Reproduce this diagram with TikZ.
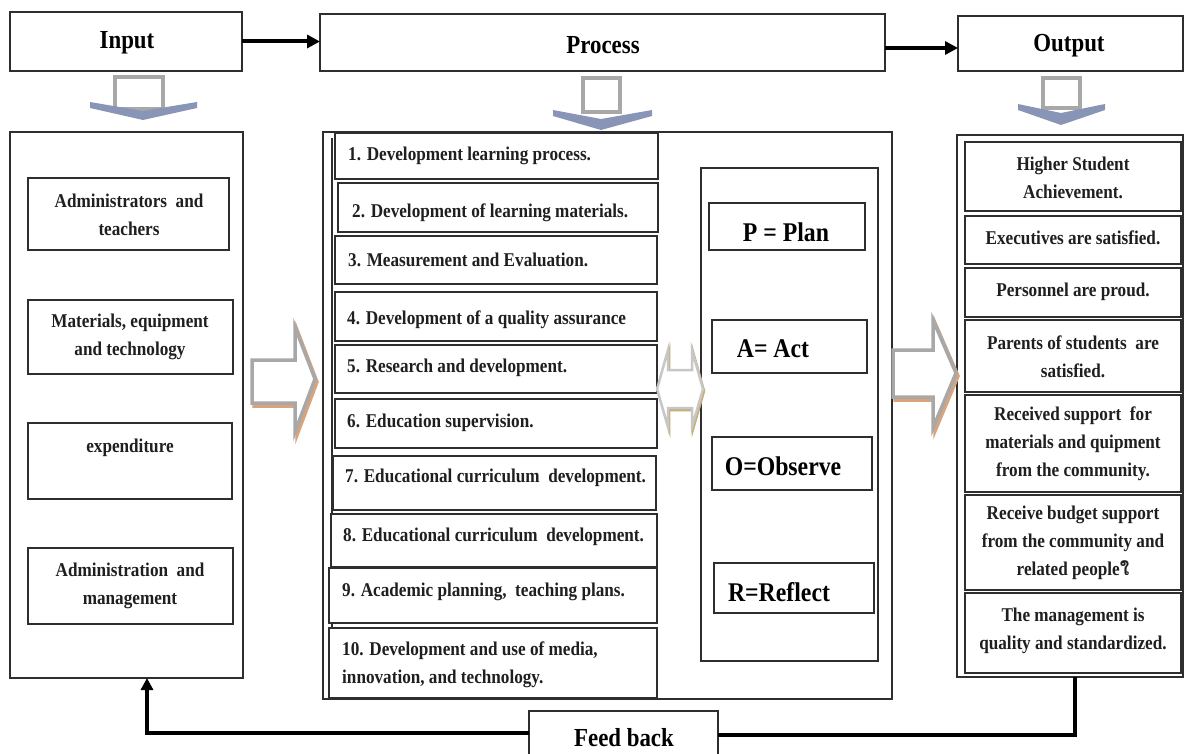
\documentclass[tikz,border=0pt]{standalone}
\usepackage{fontspec}
\setmainfont{Liberation Serif}[FakeStretch=0.88]
\newfontfamily\thaifont[Script=Thai]{Loma}
\usetikzlibrary{arrows.meta}
\definecolor{frame}{HTML}{2E2E2E}
\definecolor{arrgray}{HTML}{A8A8A8}
\definecolor{arrshadow}{HTML}{D9A47C}
\definecolor{goldshadow}{HTML}{C9AD72}
\definecolor{slate}{HTML}{8895B6}
\newcommand\mybox[6][]{\node[bx,#1,anchor=north west,minimum width={(#4-#2)*1pt},minimum height={(#5-#3)*1pt}] (#6) at (#2,#3) {};}
\begin{document}
\begin{tikzpicture}[x=1pt,y=-1pt,
  bx/.style={draw=frame,line width=1.3pt,inner sep=0pt,outer sep=0pt,fill=white},
  lbx/.style={line width=1.8pt},
  txt/.style={font=\fontsize{19.5}{28}\selectfont\bfseries,inner sep=0pt,text=black!88},
  hd/.style={font=\fontsize{26}{30}\selectfont\bfseries,inner sep=0pt},
  pd/.style={font=\fontsize{27}{30}\selectfont\bfseries,inner sep=0pt},
  conn/.style={line width=4pt,-{Triangle[length=13pt,width=13pt]}},
  feed/.style={line width=4pt},
  blk/.style={draw=arrgray,line width=3.5pt,fill=white,line join=miter},
  blkshadow/.style={draw=arrshadow,line width=3.5pt,line join=miter},
  headfill/.style={fill=slate},
]
\useasboundingbox (0,0) rectangle (1185,754);

% ---------- header boxes ----------
\mybox{10}{12}{242}{71}{inp}
\mybox{320}{14}{885}{71}{proc}
\mybox{958}{16}{1183}{71}{outp}
\node[hd] (inpT) at (127,43) {Input};
\node[hd] (procT) at (603,45) {Process};
\node[hd] (outpT) at (1069,46) {Output};

\coordinate (pa) at (proc.east |- 0,48);
\draw[conn] (inp.east) -- (inp.east -| proc.west);
\draw[conn] (pa) -- (pa -| outp.west);

% ---------- big boxes ----------
\mybox{10}{132}{243}{678}{inbig}
\mybox{323}{132}{892}{699}{midbig}
\mybox{957}{135}{1183}{677}{outbig}
\draw[draw=frame,line width=1.3pt] (midbig.north west) ++(9,6) coordinate (dl1) -- (dl1 |- midbig.south);

% ---------- input items ----------
\mybox{28}{178}{229}{250}{a1}
\mybox{28}{300}{233}{374}{a2}
\mybox{28}{423}{232}{499}{a3}
\mybox{28}{548}{233}{624}{a4}
\node[txt,align=center] (a1T) at (129,215) {Administrators\ \ and\\teachers};
\node[txt,align=center] (a2T) at (130,337) {Materials, equipment\\and technology};
\node[txt] (a3T) at (130,448) {expenditure};
\node[txt,align=center] (a4T) at (130,586) {Administration\ \ and\\management};

% ---------- process list ----------
\mybox[lbx]{335}{133}{658}{179}{r1}
\mybox[lbx]{338}{183}{658}{232}{r2}
\mybox[lbx]{335}{236}{657}{284}{r3}
\mybox[lbx]{335}{292}{657}{341}{r4}
\mybox[lbx]{335}{345}{657}{393}{r5}
\mybox[lbx]{335}{399}{657}{448}{r6}
\mybox[lbx]{333}{456}{656}{510}{r7}
\mybox[lbx]{331}{514}{657}{567}{r8}
\mybox[lbx]{329}{568}{657}{623}{r9}
\mybox[lbx]{329}{628}{657}{698}{r10}
\node[txt,anchor=west] (r1T) at (348,156) {1. Development learning process.};
\node[txt,anchor=west] (r2T) at (352,213) {2. Development of learning materials.};
\node[txt,anchor=west] (r3T) at (348,260) {3. Measurement and Evaluation.};
\node[txt,anchor=west] (r4T) at (347,320) {4. Development of a quality assurance};
\node[txt,anchor=west] (r5T) at (347,368) {5. Research and development.};
\node[txt,anchor=west] (r6T) at (347,423) {6. Education supervision.};
\node[txt,anchor=west] (r7T) at (345,478) {7. Educational curriculum\ \ development.};
\node[txt,anchor=west] (r8T) at (343,537) {8. Educational curriculum\ \ development.};
\node[txt,anchor=west] (r9T) at (342,592) {9. Academic planning,\ \ teaching plans.};
\node[txt,anchor=west,align=left] (r10T) at (342,665) {10. Development and use of media,\\innovation, and technology.};

% ---------- PDCA ----------
\mybox{701}{168}{878}{661}{pdca}
\mybox{709}{203}{865}{250}{pb}
\mybox{712}{320}{867}{373}{ab}
\mybox{712}{437}{872}{490}{ob}
\mybox{714}{563}{874}{613}{rb}
\node[pd] (pT) at (786,232) {P = Plan};
\node[pd] (aT) at (773,349) {A= Act};
\node[pd] (oT) at (783,466) {O=Observe};
\node[pd] (rT) at (779,592) {R=Reflect};

% ---------- output items ----------
\mybox{965}{142}{1181}{211}{o1}
\mybox{965}{216}{1181}{264}{o2}
\mybox{965}{268}{1181}{317}{o3}
\mybox{965}{320}{1181}{392}{o4}
\mybox{965}{395}{1181}{492}{o5}
\mybox{965}{495}{1181}{590}{o6}
\mybox{965}{593}{1181}{673}{o7}
\node[txt,align=center] (o1T) at (1073,178) {Higher Student\\Achievement.};
\node[txt] (o2T) at (1073,238) {Executives are satisfied.};
\node[txt] (o3T) at (1073,292) {Personnel are proud.};
\node[txt,align=center] (o4T) at (1073,357) {Parents of students\ \ are\\satisfied.};
\node[txt,align=center] (o5T) at (1073,444) {Received support\ \ for\\materials and quipment\\from the community.};
\node[txt,align=center] (o6T) at (1073,543) {Receive budget support\\from the community and\\related people{\thaifont ใ}};
\node[txt,align=center] (o7T) at (1073,631) {The management is\\quality and standardized.};

% ---------- block arrows ----------
% down arrows
\draw[blk] (115,77) rectangle (163,109);
\fill[headfill] (90,102) -- (143,111) -- (197,102) -- (197,108) -- (143,120) -- (90,108) -- cycle;
\draw[blk] (583,78) rectangle (620,112);
\fill[headfill] (553,110) -- (601,119) -- (652,110) -- (652,116) -- (601,130) -- (553,116) -- cycle;
\draw[blk] (1043,78) rectangle (1080,108);
\fill[headfill] (1018,104) -- (1061,113) -- (1105,104) -- (1105,110) -- (1061,125) -- (1018,110) -- cycle;
% right arrows
\draw[blkshadow,shift={(2,3)}] (252,360) -- (295,360) -- (295,327) -- (315,379) -- (295,432) -- (295,403) -- (252,403) -- cycle;
\draw[blk] (252,360) -- (295,360) -- (295,327) -- (315,379) -- (295,432) -- (295,403) -- (252,403) -- cycle;
\draw[blkshadow,shift={(2,3)}] (893,350) -- (933,350) -- (933,320) -- (956,373) -- (933,428) -- (933,397) -- (893,397) -- cycle;
\draw[blk] (893,350) -- (933,350) -- (933,320) -- (956,373) -- (933,428) -- (933,397) -- (893,397) -- cycle;
% double arrow
\draw[draw=goldshadow,line width=2.5pt,line join=miter,shift={(1,2)}] (657,389) -- (668,350) -- (668,370) -- (692,370) -- (692,350) -- (703,389) -- (692,427) -- (692,408) -- (668,408) -- (668,427) -- cycle;
\draw[draw=black!22,line width=2.5pt,fill=white,line join=miter] (657,389) -- (668,350) -- (668,370) -- (692,370) -- (692,350) -- (703,389) -- (692,427) -- (692,408) -- (668,408) -- (668,427) -- cycle;

% ---------- feed back ----------
\node[bx,anchor=north west,minimum width=189pt,minimum height=50pt] (fb) at (529,711) {};
\node[hd] (fbT) at (624,738) {Feed back};
\draw[feed,-{Triangle[length=12pt,width=12pt]}] (fb.west |- 0,733) -| (inbig.south -| 147,0);
\draw[feed] (fb.east |- 0,735) -| (outbig.south -| 1075,0);
\end{tikzpicture}
\end{document}
